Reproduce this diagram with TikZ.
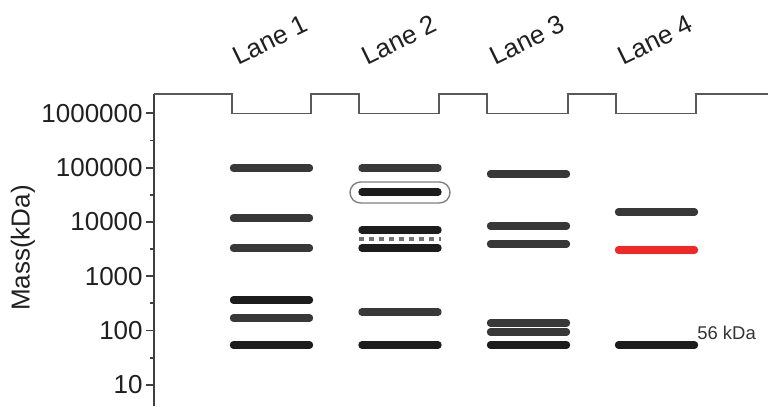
\documentclass[tikz,border=0pt]{standalone}
\usepackage{fontspec}
\setmainfont{Liberation Sans}
\usepackage{tikz}
\usepackage{xcolor}
\definecolor{axisc}{HTML}{404040}
\definecolor{wellc}{HTML}{5A5A5A}
\definecolor{bandc}{HTML}{1C1C1C}
\definecolor{bandg}{HTML}{383838}
\definecolor{markc}{HTML}{F02828}
\definecolor{textc}{HTML}{202020}
\tikzset{
  axis/.style={draw=axisc, line width=1.1pt, line join=miter},
  well/.style={draw=wellc, line width=1.1pt, line join=miter},
  band/.style={draw=bandc, line width=4.2pt, line cap=round},
  bandlight/.style={draw=bandg, line width=4.2pt, line cap=round},
  redband/.style={draw=markc, line width=4.2pt, line cap=round},
  dyefront/.style={draw=black!55, line width=2.6pt, dash pattern=on 0.1cm off 0.1cm},
  boxed/.style={draw=black!50, line width=0.8pt, rounded corners=0.21cm},
  ticklbl/.style={anchor=east, inner sep=0pt, text=textc, font=\fontsize{14.8}{17}\selectfont},
  lanelbl/.style={rotate=26, inner sep=0pt, text=textc, font=\fontsize{14.8}{17}\selectfont},
}

\begin{document}
\begin{tikzpicture}[x=0.02cm, y=-0.02cm]
\useasboundingbox (0,0) rectangle (768,406);
% axis and wells
\draw[axis] (154,406) -- (154,94);
\draw[well] (154,94) -- (232,94) -- (232,113.5) -- (311,113.5) -- (311,94) -- (359,94) -- (359,113.5) -- (439,113.5) -- (439,94) -- (487,94) -- (487,113.5) -- (568,113.5) -- (568,94) -- (616,94) -- (616,113.5) -- (696,113.5) -- (696,94) -- (768,94);
% ticks
\draw[axis] (146,113.3) -- (154,113.3);
\draw[axis] (146,167.6) -- (154,167.6);
\draw[axis] (146,221.9) -- (154,221.9);
\draw[axis] (146,276.2) -- (154,276.2);
\draw[axis] (146,330.5) -- (154,330.5);
\draw[axis] (146,384.8) -- (154,384.8);
\draw[axis] (149.5,140.5) -- (154,140.5);
\draw[axis] (149.5,194.8) -- (154,194.8);
\draw[axis] (149.5,249.1) -- (154,249.1);
\draw[axis] (149.5,303.4) -- (154,303.4);
\draw[axis] (149.5,357.7) -- (154,357.7);
\node[ticklbl] (m1000000) at (143,113.3) {1000000};
\node[ticklbl] (m100000) at (143,167.6) {100000};
\node[ticklbl] (m10000) at (143,221.9) {10000};
\node[ticklbl] (m1000) at (143,276.2) {1000};
\node[ticklbl] (m100) at (143,330.5) {100};
\node[ticklbl] (m10) at (143,384.8) {10};
\node[rotate=90, inner sep=0pt, text=textc, font=\fontsize{14.8}{17}\selectfont] (ylab) at (23,248) {Mass(kDa)};
% lane labels
\node[lanelbl] (lane1) at (270,40) {Lane 1};
\node[lanelbl] (lane2) at (399,40) {Lane 2};
\node[lanelbl] (lane3) at (527,40) {Lane 3};
\node[lanelbl] (lane4) at (655,40) {Lane 4};
% lane 1
\draw[bandlight] (233.5,168) -- (309.5,168);
\draw[bandlight] (233.5,218) -- (309.5,218);
\draw[bandlight] (233.5,248) -- (309.5,248);
\draw[band] (233.5,300) -- (309.5,300);
\draw[bandlight] (233.5,318) -- (309.5,318);
\draw[band] (233.5,345) -- (309.5,345);
% lane 2
\draw[boxed] (350,182) rectangle (450,203);
\draw[bandlight] (362,168) -- (438,168);
\draw[band] (362,192) -- (438,192);
\draw[band] (362,230) -- (438,230);
\draw[dyefront] (359,239) -- (441,239);
\draw[band] (362,248) -- (438,248);
\draw[bandlight] (362,312) -- (438,312);
\draw[band] (362,345) -- (438,345);
% lane 3
\draw[bandlight] (490.5,174) -- (566.5,174);
\draw[bandlight] (490.5,226) -- (566.5,226);
\draw[bandlight] (490.5,244) -- (566.5,244);
\draw[bandlight] (490.5,323) -- (566.5,323);
\draw[bandlight] (490.5,332) -- (566.5,332);
\draw[band] (490.5,345) -- (566.5,345);
% lane 4
\draw[bandlight] (618.5,212) -- (694.5,212);
\draw[redband] (618.5,250) -- (694.5,250);
\draw[band] (618.5,345) -- (694.5,345);
\node[anchor=west, inner sep=0pt, text=black!80, font=\fontsize{10.5}{12}\selectfont] (kda56) at (697,333) {56 kDa};
\end{tikzpicture}
\end{document}
